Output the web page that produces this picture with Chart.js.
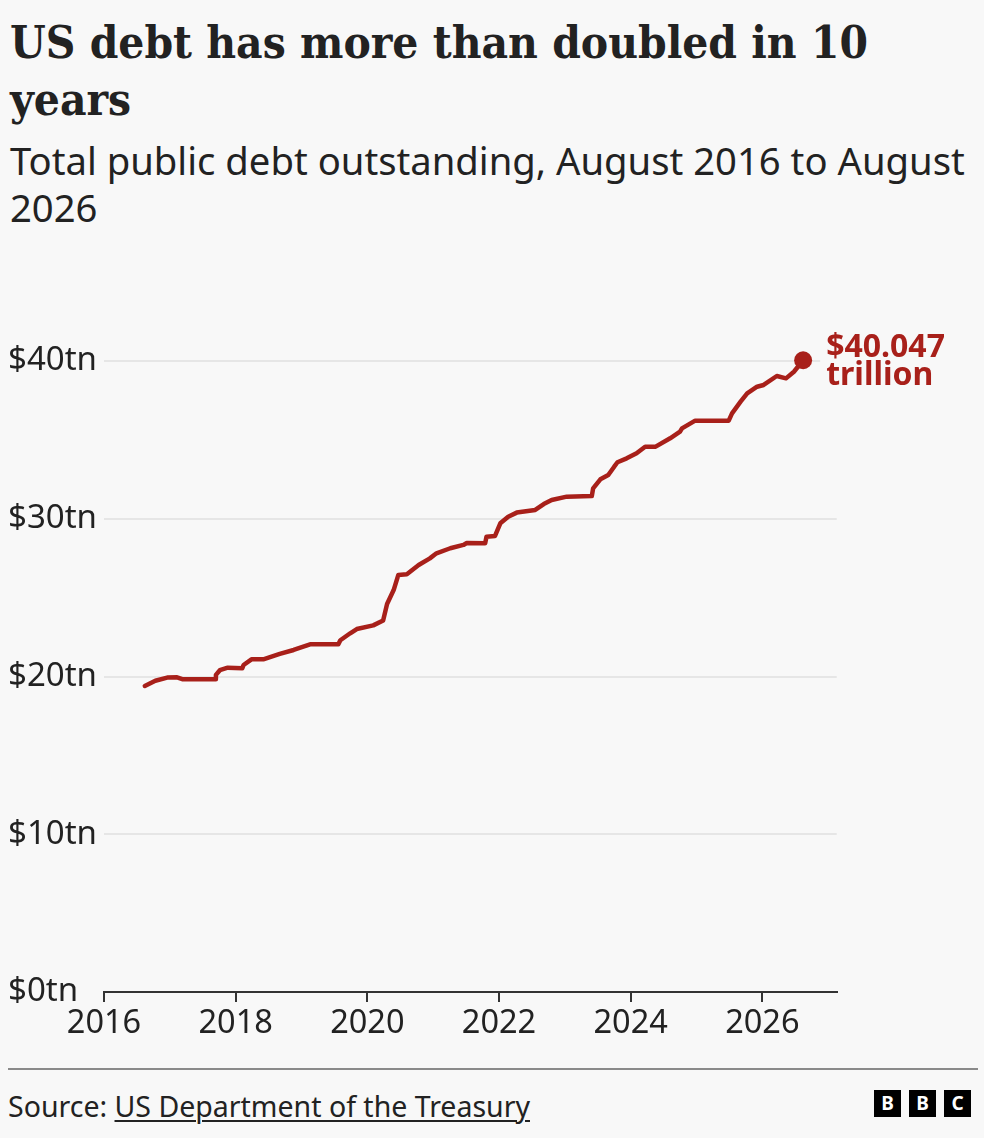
<!DOCTYPE html>
<html>
<head>
<meta charset="utf-8">
<script src="https://cdn.jsdelivr.net/npm/chart.js@4.4.1/dist/chart.umd.min.js"></script>
<style>
  html, body { margin: 0; padding: 0; background: #f8f8f8; }
  body { width: 984px; height: 1138px; position: relative; overflow: hidden; color: #222; }
  #title { font-family: "DejaVu Serif", serif; font-weight: bold; font-stretch: condensed; color: #222; }
  #subtitle { font-family: "Noto Sans", sans-serif; color: #222; }
  #source { position: absolute; left: 8px; font-family: "Noto Sans", sans-serif; color: #222; white-space: nowrap; }
  #source u { text-decoration-thickness: 1.5px; text-underline-offset: 3px; }
  #sep { position: absolute; left: 8px; width: 970px; top: 1068px; height: 2px; background: #8a8a8a; }
  #chartbox { position: absolute; left: 0; top: 300px; width: 984px; height: 760px; }
  .blk { position: absolute; top: 1090px; width: 27px; height: 27px; background: #000; color: #fff;
         font-family: "Noto Sans", sans-serif; font-weight: bold; font-size: 19px; line-height: 27px; text-align: center; }
</style>
</head>
<body>
<div id="title"></div>
<div id="subtitle"></div>
<div id="chartbox"><canvas id="c"></canvas></div>
<div id="sep"></div>
<div id="source">Source: <u>US Department of the Treasury</u></div>
<div class="blk" style="left:874px">B</div>
<div class="blk" style="left:909px">B</div>
<div class="blk" style="left:944px">C</div>
<script>
// ---- data ----
const titleLines = ["US debt has more than doubled in 10", "years"];
const subtitleLines = ["Total public debt outstanding, August 2016 to August", "2026"];
const years = [2016.62, 2016.78, 2016.96, 2017.11, 2017.20, 2017.69, 2017.70, 2017.76, 2017.88,
  2018.10, 2018.12, 2018.24, 2018.42, 2018.67, 2018.88, 2019.13, 2019.56, 2019.59, 2019.74, 2019.84,
  2020.09, 2020.24, 2020.30, 2020.40, 2020.47, 2020.60, 2020.78, 2020.95, 2021.05, 2021.26, 2021.46,
  2021.51, 2021.79, 2021.81, 2021.94, 2022.02, 2022.14, 2022.27, 2022.55, 2022.68, 2022.80, 2023.03,
  2023.41, 2023.43, 2023.54, 2023.66, 2023.75, 2023.80, 2023.94, 2024.09, 2024.22, 2024.38, 2024.60,
  2024.75, 2024.78, 2024.98, 2025.49, 2025.54, 2025.67, 2025.77, 2025.92, 2026.02, 2026.22, 2026.36,
  2026.48, 2026.62];
const debt = [19.40, 19.73, 19.93, 19.95, 19.82, 19.82, 20.10, 20.40, 20.56,
  20.52, 20.73, 21.09, 21.09, 21.43, 21.68, 22.04, 22.04, 22.30, 22.74, 23.01,
  23.24, 23.55, 24.60, 25.48, 26.43, 26.48, 27.07, 27.49, 27.81, 28.13, 28.34,
  28.46, 28.44, 28.86, 28.91, 29.71, 30.13, 30.39, 30.56, 30.93, 31.19, 31.40,
  31.44, 31.93, 32.50, 32.77, 33.30, 33.58, 33.83, 34.15, 34.57, 34.57, 35.10,
  35.52, 35.73, 36.22, 36.22, 36.68, 37.42, 37.95, 38.37, 38.48, 39.05, 38.90,
  39.32, 40.047];
const yTicks = [0, 10, 20, 30, 40];
const xTicks = [2016, 2018, 2020, 2022, 2024, 2026];
const endLabel = ["$40.047", "trillion"];

const RED = "#a8201a";
const BG = "#f8f8f8";

// ---- text fitting ----
const mctx = document.createElement("canvas").getContext("2d");
function placeLines(el, lines, fam, weight, stretch, target, lineH, firstBaseline, asc, desc) {
  mctx.font = weight + " " + stretch + " 100px " + fam;
  const s = 100 * target / mctx.measureText(lines[0]).width;
  el.style.fontSize = s + "px";
  el.style.lineHeight = lineH + "px";
  el.style.position = "absolute";
  el.style.left = "10px";
  el.style.whiteSpace = "nowrap";
  el.innerHTML = lines.join("<br>");
  el.style.top = (firstBaseline - (lineH / 2 + (asc - desc) / 2 * s)) + "px";
}
placeLines(document.getElementById("title"), titleLines, '"DejaVu Serif"', "bold", "condensed", 858, 57, 58, 0.928, 0.236);
placeLines(document.getElementById("subtitle"), subtitleLines, '"Noto Sans"', "normal", "normal", 955, 47, 175, 1.069, 0.293);
(function () {
  const el = document.getElementById("source");
  mctx.font = '100px "Noto Sans"';
  const s = 100 * 522 / mctx.measureText("Source: US Department of the Treasury").width;
  el.style.fontSize = s + "px";
  el.style.lineHeight = "30px";
  el.style.top = (1117 - (15 + (1.069 - 0.293) / 2 * s)) + "px";
})();

// ---- chart ----
const endLabelPlugin = {
  id: "endLabel",
  beforeDatasetsDraw(chart) {
    const meta = chart.getDatasetMeta(0);
    const p = meta.data[meta.data.length - 1];
    const ctx = chart.ctx;
    ctx.save();
    ctx.fillStyle = BG;
    ctx.fillRect(p.x + 17, p.y - 30, 150, 60);
    ctx.restore();
  },
  afterDatasetsDraw(chart) {
    const meta = chart.getDatasetMeta(0);
    const p = meta.data[meta.data.length - 1];
    const ctx = chart.ctx;
    ctx.save();
    ctx.fillStyle = RED;
    ctx.font = 'bold 32px "Noto Sans"';
    ctx.textAlign = "left";
    ctx.textBaseline = "alphabetic";
    ctx.fillText(endLabel[0], p.x + 23, p.y - 3);
    ctx.fillText(endLabel[1], p.x + 23, p.y + 25);
    ctx.restore();
  }
};

const points = years.map((x, i) => ({ x: x, y: debt[i] }));
const last = points.length - 1;

new Chart(document.getElementById("c"), {
  type: "line",
  data: {
    datasets: [{
      data: points,
      borderColor: RED,
      backgroundColor: RED,
      borderWidth: 4.5,
      borderJoinStyle: "round",
      borderCapStyle: "round",
      tension: 0,
      clip: false,
      pointRadius: ctx => ctx.dataIndex === last ? 9 : 0,
      pointHoverRadius: ctx => ctx.dataIndex === last ? 9 : 0,
      pointBackgroundColor: RED,
      pointBorderWidth: 0
    }]
  },
  options: {
    responsive: true,
    maintainAspectRatio: false,
    animation: false,
    events: [],
    layout: { padding: { left: 8, right: 147.3, top: 61, bottom: 8 } },
    plugins: { legend: { display: false }, tooltip: { enabled: false } },
    scales: {
      x: {
        type: "linear",
        min: 2016,
        max: 2027.13,
        afterFit: s => { s.height = 60; },
        afterBuildTicks: s => { s.ticks = xTicks.map(v => ({ value: v })); },
        ticks: {
          includeBounds: false,
          autoSkip: false,
          maxRotation: 0,
          padding: 2,
          color: "#222",
          font: { family: "Noto Sans", size: 32.5 },
          callback: v => String(v)
        },
        grid: { drawOnChartArea: false, drawTicks: true, tickLength: 10, color: "#333", lineWidth: 2 },
        border: { display: true, color: "#333", width: 2 }
      },
      y: {
        min: 0,
        max: 40,
        afterFit: s => { s.width = 96; },
        afterBuildTicks: s => { s.ticks = yTicks.map(v => ({ value: v })); },
        ticks: {
          crossAlign: "far",
          padding: 0,
          color: "#222",
          font: { family: "Noto Sans", size: 33 },
          callback: v => "$" + v + "tn"
        },
        grid: { drawTicks: false, color: "#e6e6e6", lineWidth: 2 },
        border: { display: false }
      }
    }
  },
  plugins: [endLabelPlugin]
});
</script>
</body>
</html>
